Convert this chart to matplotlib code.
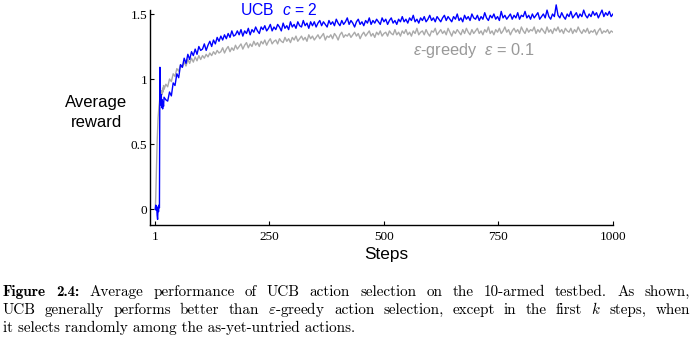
import matplotlib
matplotlib.use("Agg")
import matplotlib.pyplot as plt

# ---------------------------------------------------------------- data
steps = list(range(1, 21)) + list(range(24, 1001, 4))

ucb_reward = [
    0.00, 0.03, -0.01, 0.02, -0.05, -0.08, 0.01, -0.02, 0.03, 0.01,
    1.09, 0.86, 0.80, 0.88, 0.78, 0.84, 0.77, 0.82, 0.79, 0.86,
    # steps 24 .. 1000, every 4 steps
    0.84, 0.83, 0.90, 0.87, 0.97, 0.95, 1.04, 1.01, 1.11, 1.09,
    1.16, 1.12, 1.19, 1.15, 1.21, 1.18, 1.23, 1.19, 1.25, 1.22,
    1.23, 1.27, 1.22, 1.26, 1.29, 1.25, 1.30, 1.27, 1.32, 1.29,
    1.33, 1.30, 1.34, 1.31, 1.35, 1.32, 1.37, 1.33, 1.34, 1.37,
    1.34, 1.38, 1.33, 1.37, 1.35, 1.39, 1.34, 1.38, 1.36, 1.40,
    1.37, 1.35, 1.40, 1.38, 1.41, 1.37, 1.39, 1.42, 1.37, 1.40,
    1.38, 1.42, 1.40, 1.37, 1.43, 1.39, 1.41, 1.38, 1.44, 1.40,
    1.42, 1.39, 1.44, 1.41, 1.40, 1.45, 1.41, 1.43, 1.39, 1.44,
    1.41, 1.44, 1.40, 1.43, 1.45, 1.41, 1.44, 1.42, 1.40, 1.45,
    1.42, 1.44, 1.41, 1.46, 1.43, 1.41, 1.45, 1.42, 1.44, 1.47,
    1.42, 1.45, 1.43, 1.40, 1.44, 1.46, 1.42, 1.44, 1.41, 1.45,
    1.43, 1.47, 1.42, 1.45, 1.43, 1.46, 1.44, 1.42, 1.47, 1.44,
    1.46, 1.42, 1.45, 1.47, 1.43, 1.45, 1.42, 1.46, 1.44, 1.48,
    1.44, 1.46, 1.43, 1.47, 1.45, 1.49, 1.44, 1.46, 1.43, 1.47,
    1.45, 1.48, 1.44, 1.46, 1.49, 1.45, 1.47, 1.44, 1.48, 1.46,
    1.44, 1.47, 1.49, 1.45, 1.48, 1.46, 1.44, 1.48, 1.46, 1.50,
    1.45, 1.47, 1.44, 1.49, 1.46, 1.48, 1.45, 1.50, 1.47, 1.46,
    1.49, 1.45, 1.48, 1.46, 1.51, 1.47, 1.45, 1.49, 1.47, 1.50,
    1.46, 1.48, 1.45, 1.52, 1.47, 1.49, 1.46, 1.48, 1.50, 1.46,
    1.49, 1.47, 1.51, 1.46, 1.49, 1.48, 1.52, 1.47, 1.49, 1.46,
    1.50, 1.47, 1.49, 1.51, 1.46, 1.48, 1.50, 1.47, 1.53, 1.48,
    1.46, 1.50, 1.48, 1.57, 1.49, 1.47, 1.51, 1.48, 1.46, 1.50,
    1.48, 1.52, 1.47, 1.49, 1.51, 1.47, 1.50, 1.48, 1.53, 1.49,
    1.47, 1.50, 1.48, 1.52, 1.49, 1.51, 1.47, 1.50, 1.53, 1.48,
    1.51, 1.49, 1.52, 1.48, 1.50,
]

greedy_reward = [
    0.00, 0.10, 0.25, 0.40, 0.52, 0.62, 0.70, 0.75, 0.79, 0.82,
    0.86, 0.84, 0.88, 0.86, 0.91, 0.88, 0.93, 0.90, 0.95, 0.92,
    # steps 24 .. 1000, every 4 steps
    0.96, 0.94, 1.00, 0.98, 1.04, 1.02, 1.08, 1.06, 1.11, 1.09,
    1.13, 1.10, 1.15, 1.12, 1.16, 1.13, 1.17, 1.14, 1.18, 1.15,
    1.18, 1.16, 1.19, 1.17, 1.20, 1.18, 1.21, 1.19, 1.22, 1.20,
    1.21, 1.24, 1.20, 1.23, 1.25, 1.21, 1.24, 1.22, 1.26, 1.23,
    1.25, 1.27, 1.23, 1.26, 1.28, 1.24, 1.27, 1.25, 1.29, 1.26,
    1.28, 1.25, 1.29, 1.27, 1.30, 1.26, 1.29, 1.31, 1.27, 1.29,
    1.30, 1.27, 1.31, 1.29, 1.28, 1.32, 1.29, 1.31, 1.28, 1.32,
    1.30, 1.33, 1.29, 1.31, 1.33, 1.30, 1.32, 1.29, 1.34, 1.31,
    1.33, 1.30, 1.32, 1.34, 1.31, 1.33, 1.35, 1.30, 1.33, 1.32,
    1.34, 1.31, 1.35, 1.33, 1.30, 1.34, 1.36, 1.32, 1.34, 1.33,
    1.35, 1.32, 1.34, 1.36, 1.33, 1.35, 1.31, 1.34, 1.36, 1.33,
    1.35, 1.37, 1.33, 1.35, 1.32, 1.36, 1.34, 1.37, 1.33, 1.35,
    1.36, 1.33, 1.37, 1.35, 1.34, 1.38, 1.34, 1.36, 1.33, 1.37,
    1.35, 1.38, 1.34, 1.36, 1.33, 1.37, 1.35, 1.39, 1.34, 1.36,
    1.37, 1.34, 1.38, 1.35, 1.33, 1.37, 1.36, 1.39, 1.34, 1.36,
    1.38, 1.35, 1.37, 1.34, 1.39, 1.36, 1.33, 1.37, 1.35, 1.38,
    1.36, 1.34, 1.38, 1.35, 1.39, 1.36, 1.34, 1.38, 1.35, 1.37,
    1.39, 1.35, 1.37, 1.34, 1.38, 1.36, 1.40, 1.35, 1.37, 1.34,
    1.38, 1.36, 1.39, 1.35, 1.37, 1.40, 1.36, 1.38, 1.34, 1.37,
    1.39, 1.36, 1.38, 1.35, 1.40, 1.37, 1.35, 1.39, 1.36, 1.38,
    1.37, 1.40, 1.35, 1.38, 1.36, 1.39, 1.37, 1.35, 1.40, 1.36,
    1.38, 1.35, 1.39, 1.37, 1.40, 1.36, 1.38, 1.35, 1.39, 1.37,
    1.36, 1.39, 1.35, 1.38, 1.36, 1.40, 1.37, 1.35, 1.38, 1.36,
    1.39, 1.35, 1.37, 1.36, 1.38, 1.34, 1.37, 1.39, 1.35, 1.37,
    1.36, 1.38, 1.35, 1.37, 1.36,
]

x_ticks = [1, 250, 500, 750, 1000]
x_tick_labels = ["1", "250", "500", "750", "1000"]
y_ticks = [0, 0.5, 1, 1.5]
y_tick_labels = ["0", "0.5", "1", "1.5"]

ucb_label = r"UCB  $c$ = 2"
greedy_label = r"$\varepsilon$-greedy  $\varepsilon$ = 0.1"

caption_line1 = ["Average", "performance", "of", "UCB", "action", "selection",
                 "on", "the", "10-armed", "testbed.", "As", "shown,"]
caption_line2 = ["UCB", "generally", "performs", "better", "than",
                 r"$\varepsilon$-greedy", "action", "selection,", "except",
                 "in", "the", "first", r"$k$", "steps,", "when"]
caption_line3 = "it selects randomly among the as-yet-untried actions."

UCB_COLOR = "#0000ff"
GREEDY_COLOR = "#aaaaaa"
GREEDY_TEXT = "#999999"

# ---------------------------------------------------------------- style
plt.rcParams["font.family"] = ["Liberation Sans", "DejaVu Sans"]
plt.rcParams["mathtext.fontset"] = "custom"
plt.rcParams["mathtext.rm"] = "Liberation Sans"
plt.rcParams["mathtext.it"] = "Liberation Sans:italic"

W, H = 692, 339
fig = plt.figure(figsize=(W / 100, H / 100), dpi=100)


def fx(px):
    return px / W


def fy(py):
    return 1 - py / H


ax = fig.add_axes([fx(150), fy(225), 463 / W, 221.4 / H])
ax.plot(steps, greedy_reward, color=GREEDY_COLOR, lw=1.0)
ax.plot(steps, ucb_reward, color=UCB_COLOR, lw=1.0)

ax.set_xlim(-10.6, 1000)
ax.set_ylim(-0.123, 1.58)
ax.spines["top"].set_visible(False)
ax.spines["right"].set_visible(False)
ax.spines["left"].set_bounds(-0.123, 1.53)
for s in ("left", "bottom"):
    ax.spines[s].set_linewidth(1.0)

ax.set_xticks(x_ticks)
ax.set_xticklabels(x_tick_labels)
ax.set_yticks(y_ticks)
ax.set_yticklabels(y_tick_labels)
ax.tick_params(direction="in", length=3, width=0.8, labelsize=9.5)
ax.tick_params(axis="y", pad=2)
ax.tick_params(axis="x", pad=4)
for lab in ax.get_xticklabels() + ax.get_yticklabels():
    lab.set_fontfamily("Liberation Serif")

# axis titles
fig.text(fx(96.5), fy(107.3), "Average", ha="center", va="baseline", fontsize=12)
fig.text(fx(96.5), fy(127.3), "reward", ha="center", va="baseline", fontsize=12)
fig.text(fx(386), fy(259.5), "Steps", ha="center", va="baseline", fontsize=12.4)

# series labels
fig.text(fx(240), fy(15), ucb_label, color=UCB_COLOR, fontsize=11.3,
         ha="left", va="baseline")
fig.text(fx(413), fy(55), greedy_label, color=GREEDY_TEXT, fontsize=11.8,
         ha="left", va="baseline")

# ---------------------------------------------------------------- caption
CAP_SIZE = 10.9
renderer = fig.canvas.get_renderer()


def cap_text(s, bold=False):
    return fig.text(0, 0, s, fontsize=CAP_SIZE,
                    family="cmb10" if bold else "cmr10",
                    math_fontfamily="cm", ha="left", va="baseline")


def justify(items, x0, x1, base):
    texts = [cap_text(s, b) for s, b in items]
    widths = [t.get_window_extent(renderer).width for t in texts]
    gap = (x1 - x0 - sum(widths)) / (len(texts) - 1)
    x = x0
    for t, w in zip(texts, widths):
        t.set_position((fx(x), fy(base)))
        x += w + gap


line1 = [("Figure", True), ("2.4:", True)] + [(w, False) for w in caption_line1]
justify(line1, 3, 690, 296)
justify([(w, False) for w in caption_line2], 3, 690, 314)
t3 = cap_text(caption_line3)
t3.set_position((fx(3), fy(332)))

fig.savefig("out.png", dpi=100)
